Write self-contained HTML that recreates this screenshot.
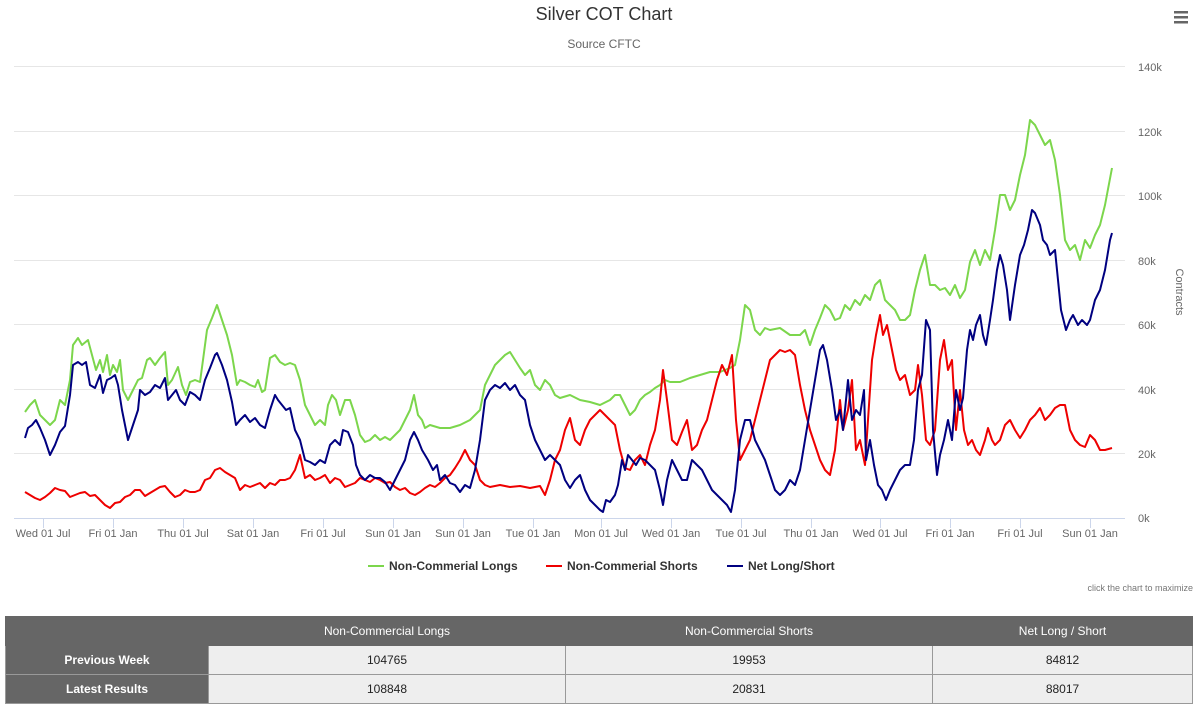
<!DOCTYPE html>
<html><head><meta charset="utf-8"><style>
body{margin:0;width:1198px;height:708px;background:#fff;font-family:"Liberation Sans",sans-serif;overflow:hidden;position:relative}
svg{position:absolute;left:0;top:0}
table{position:absolute;left:5px;top:616px;width:1188px;border-collapse:collapse;font-size:12px}
td{height:28px;text-align:center;border:1px solid #999;padding:0}
.h td{background:#666;color:#fff;border-color:#666}
td.l{background:#666;color:#fff;font-weight:bold;width:202px}
td.d{background:#eee;color:#222}
</style></head><body>
<svg width="1198" height="610" font-family="Liberation Sans, sans-serif">
<text x="604" y="20" text-anchor="middle" font-size="18" fill="#333">Silver COT Chart</text>
<text x="604" y="48" text-anchor="middle" font-size="12" fill="#666">Source CFTC</text>
<g fill="#666"><rect x="1174" y="11" width="14" height="2.5"/><rect x="1174" y="16" width="14" height="2.5"/><rect x="1174" y="21" width="14" height="2.5"/></g>
<g stroke="#e6e6e6" stroke-width="1">
<line x1="14" x2="1125" y1="66.5" y2="66.5"/><line x1="14" x2="1125" y1="131.5" y2="131.5"/><line x1="14" x2="1125" y1="195.5" y2="195.5"/><line x1="14" x2="1125" y1="260.5" y2="260.5"/><line x1="14" x2="1125" y1="324.5" y2="324.5"/><line x1="14" x2="1125" y1="389.5" y2="389.5"/><line x1="14" x2="1125" y1="453.5" y2="453.5"/>
</g>
<line x1="14" x2="1125" y1="518.5" y2="518.5" stroke="#ccd6eb"/>
<g font-size="11" fill="#666">
<text x="1138" y="71">140k</text><text x="1138" y="136">120k</text><text x="1138" y="200">100k</text><text x="1138" y="265">80k</text><text x="1138" y="329">60k</text><text x="1138" y="394">40k</text><text x="1138" y="458">20k</text><text x="1138" y="522">0k</text>
</g>
<text transform="translate(1176,292) rotate(90)" text-anchor="middle" font-size="11" fill="#666">Contracts</text>
<g stroke="#ccd6eb"><line x1="43.5" x2="43.5" y1="518" y2="528"/><line x1="113.5" x2="113.5" y1="518" y2="528"/><line x1="183.5" x2="183.5" y1="518" y2="528"/><line x1="253.5" x2="253.5" y1="518" y2="528"/><line x1="323.5" x2="323.5" y1="518" y2="528"/><line x1="393.5" x2="393.5" y1="518" y2="528"/><line x1="463.5" x2="463.5" y1="518" y2="528"/><line x1="533.5" x2="533.5" y1="518" y2="528"/><line x1="601.5" x2="601.5" y1="518" y2="528"/><line x1="671.5" x2="671.5" y1="518" y2="528"/><line x1="741.5" x2="741.5" y1="518" y2="528"/><line x1="811.5" x2="811.5" y1="518" y2="528"/><line x1="880.5" x2="880.5" y1="518" y2="528"/><line x1="950.5" x2="950.5" y1="518" y2="528"/><line x1="1020.5" x2="1020.5" y1="518" y2="528"/><line x1="1090.5" x2="1090.5" y1="518" y2="528"/></g>
<g font-size="11" fill="#666" text-anchor="middle">
<text x="43" y="537">Wed 01 Jul</text><text x="113" y="537">Fri 01 Jan</text><text x="183" y="537">Thu 01 Jul</text><text x="253" y="537">Sat 01 Jan</text><text x="323" y="537">Fri 01 Jul</text><text x="393" y="537">Sun 01 Jan</text><text x="463" y="537">Sun 01 Jan</text><text x="533" y="537">Tue 01 Jan</text><text x="601" y="537">Mon 01 Jul</text><text x="671" y="537">Wed 01 Jan</text><text x="741" y="537">Tue 01 Jul</text><text x="811" y="537">Thu 01 Jan</text><text x="880" y="537">Wed 01 Jul</text><text x="950" y="537">Fri 01 Jan</text><text x="1020" y="537">Fri 01 Jul</text><text x="1090" y="537">Sun 01 Jan</text>
</g>
<g fill="none" stroke-width="2" stroke-linejoin="round">
<polyline stroke="#7cd64c" points="25,412 30,405 35,400 40,415 45,420 50,425 55,420 60,400 65,405 70,380 73,345 78,338 82,345 88,340 92,355 96,370 100,360 103,372 107,355 110,375 113,365 117,372 120,360 123,390 128,400 133,390 138,380 142,378 147,360 150,358 155,365 160,358 165,352 168,385 172,380 178,367 182,385 186,395 190,382 195,380 200,382 203,360 207,330 212,318 217,305 222,320 227,335 232,355 237,385 240,380 245,382 250,385 255,387 258,380 262,392 265,390 270,358 275,355 280,362 285,365 290,363 295,365 300,380 305,405 310,415 315,425 320,420 325,425 328,405 332,395 336,400 340,415 345,400 350,400 355,415 360,435 365,442 370,440 375,435 380,440 385,437 390,440 395,435 400,430 405,420 410,410 414,395 418,415 422,420 425,428 430,425 440,428 450,428 460,425 470,420 480,410 485,385 490,375 495,365 500,360 505,355 510,352 515,360 520,368 525,375 530,370 535,385 540,390 545,380 550,385 555,395 560,398 570,395 580,400 590,402 600,405 610,400 615,395 620,395 625,405 630,415 635,410 640,400 645,395 650,392 655,388 660,385 665,380 670,382 680,382 690,378 700,375 710,372 720,372 730,368 735,365 740,340 745,305 750,310 755,330 760,335 765,328 770,330 780,328 790,335 800,335 805,330 810,345 815,330 820,318 825,305 830,310 835,320 840,318 845,305 850,310 855,300 860,305 865,295 870,300 875,285 880,280 885,300 890,305 895,310 900,320 905,320 910,315 915,290 920,270 925,255 930,285 935,285 940,290 945,288 950,295 955,285 960,298 965,290 970,262 975,250 980,265 985,250 990,260 995,230 1000,195 1005,195 1010,210 1015,200 1020,175 1025,155 1030,120 1035,125 1040,135 1045,145 1050,140 1055,160 1060,195 1065,240 1070,250 1075,245 1080,260 1085,240 1090,248 1095,235 1100,225 1105,205 1112,168"/>
<polyline stroke="#e00" points="25,492 30,495 35,498 40,500 45,497 50,493 55,488 60,490 65,491 70,497 75,495 80,493 85,492 90,496 95,495 100,500 105,505 110,508 115,503 120,502 125,497 130,495 135,490 140,490 145,496 150,493 155,490 160,487 165,486 170,492 175,497 180,495 185,490 190,492 195,492 200,490 205,480 210,478 215,470 220,468 225,472 230,475 235,478 240,490 245,485 250,487 255,485 260,483 265,488 270,483 275,485 280,480 285,480 290,478 295,470 300,455 305,478 310,475 315,480 320,478 325,475 330,483 335,478 340,480 345,487 350,485 355,483 360,478 365,480 370,482 375,478 380,480 385,483 390,482 395,487 400,490 405,488 410,493 415,495 420,492 425,488 430,485 435,487 440,483 445,478 450,475 455,468 460,460 465,450 470,460 475,465 480,480 485,485 490,487 500,485 510,487 520,486 530,488 540,486 545,495 550,480 555,460 560,450 565,430 570,418 575,440 580,445 585,430 590,420 595,415 600,410 605,415 610,420 615,425 620,450 625,468 630,470 635,460 640,455 645,465 650,445 655,430 660,400 663,370 667,400 672,440 677,445 682,432 687,420 692,450 697,445 702,430 707,420 712,400 717,380 722,365 727,375 732,355 736,420 740,460 745,450 750,440 755,420 760,400 765,380 770,360 775,355 780,350 785,352 790,350 795,355 800,385 805,410 810,430 815,445 820,460 825,470 830,475 835,450 840,400 843,430 848,410 852,380 856,450 860,440 865,465 868,420 872,360 876,335 880,315 883,335 887,325 892,350 896,370 900,380 905,375 910,395 915,390 918,365 922,395 926,440 930,445 935,430 940,360 944,340 948,370 952,360 956,430 960,390 964,430 968,445 972,440 976,450 980,455 985,440 988,428 992,440 995,445 1000,440 1005,425 1010,420 1015,430 1020,438 1025,430 1030,420 1035,415 1040,408 1045,420 1050,415 1055,408 1060,405 1065,405 1070,430 1075,440 1080,445 1085,447 1090,435 1095,440 1100,450 1105,450 1112,448"/>
<polyline stroke="#000080" points="25,438 28,428 32,425 36,420 40,428 45,440 50,455 55,445 60,432 65,426 70,395 73,365 78,362 82,365 86,362 90,385 95,388 100,375 103,393 107,380 111,378 115,375 118,385 122,410 128,440 133,425 138,410 140,390 145,395 150,392 155,385 160,388 165,378 168,400 172,395 176,390 180,400 185,405 190,392 195,395 200,400 205,380 210,368 215,355 217,353 222,365 227,380 232,402 236,425 240,420 245,415 250,422 255,418 260,425 265,428 270,410 275,395 278,400 282,405 286,410 290,408 295,430 300,440 305,460 310,462 315,465 320,460 325,463 330,445 335,440 340,445 343,430 348,432 353,445 356,465 360,475 365,480 370,475 375,478 380,478 385,482 390,490 395,480 400,470 405,460 410,440 414,432 418,440 422,450 428,460 433,470 437,465 440,480 445,475 450,483 455,485 460,492 465,485 470,488 475,470 480,440 485,400 490,390 495,385 500,388 505,383 510,390 515,385 520,395 525,400 530,425 535,440 540,450 545,460 550,455 555,460 560,465 565,480 570,488 575,480 580,475 585,490 590,500 595,505 600,510 603,512 606,500 610,502 615,495 618,485 622,460 625,470 628,455 632,460 636,465 640,458 645,460 650,465 655,470 660,490 663,505 667,480 672,460 677,470 682,480 687,480 692,460 697,465 702,470 707,480 712,490 717,495 722,500 727,505 731,512 735,490 740,440 745,420 750,420 755,440 760,450 765,460 770,475 775,490 780,495 785,490 790,480 795,485 800,470 805,440 810,410 815,380 820,350 823,345 827,360 832,390 836,420 840,410 843,430 848,380 852,420 856,410 860,415 864,390 866,460 870,440 874,465 878,485 882,490 886,500 890,490 895,480 900,470 905,465 910,465 914,440 918,390 922,375 926,320 930,330 933,430 937,475 940,455 944,440 948,420 952,440 956,390 960,410 963,398 967,350 970,330 973,340 976,325 980,315 983,335 986,345 990,320 993,300 997,270 1000,255 1003,265 1007,290 1010,320 1015,285 1020,255 1024,245 1028,230 1032,210 1035,213 1040,225 1043,240 1047,245 1050,255 1055,250 1058,280 1061,310 1066,330 1070,320 1073,315 1078,325 1082,320 1087,325 1090,320 1095,300 1100,290 1105,270 1110,240 1112,233"/>
</g>
<g font-size="12" font-weight="bold" fill="#333">
<line x1="368" x2="384" y1="566" y2="566" stroke="#7cd64c" stroke-width="2"/><text x="389" y="570">Non-Commerial Longs</text>
<line x1="546" x2="562" y1="566" y2="566" stroke="#e00" stroke-width="2"/><text x="567" y="570">Non-Commerial Shorts</text>
<line x1="727" x2="743" y1="566" y2="566" stroke="#000080" stroke-width="2"/><text x="748" y="570">Net Long/Short</text>
</g>
<text x="1193" y="591" text-anchor="end" font-size="9" fill="#777">click the chart to maximize</text>
</svg>
<table>
<tr class="h"><td style="width:202px"></td><td style="width:356px">Non-Commercial Longs</td><td style="width:366px">Non-Commercial Shorts</td><td>Net Long / Short</td></tr>
<tr><td class="l">Previous Week</td><td class="d">104765</td><td class="d">19953</td><td class="d">84812</td></tr>
<tr><td class="l">Latest Results</td><td class="d">108848</td><td class="d">20831</td><td class="d">88017</td></tr>
</table>
</body></html>
